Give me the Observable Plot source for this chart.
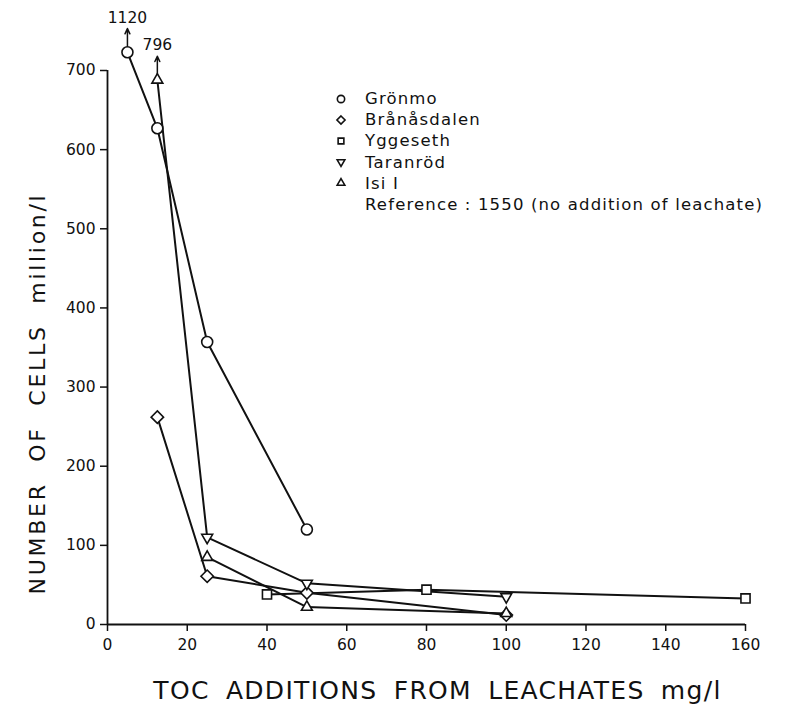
<!DOCTYPE html>
<html>
<head>
<meta charset="utf-8">
<script src="https://cdn.jsdelivr.net/npm/d3@7"></script>
<script src="https://cdn.jsdelivr.net/npm/@observablehq/plot@0.6"></script>
<style>
  html, body { margin: 0; padding: 0; background: #fff; overflow: hidden; }
  #wrap { position: relative; width: 800px; height: 705px; font-family: "DejaVu Sans", sans-serif; }
  #legend { position: absolute; left: 333px; top: 88px; font-size: 16.5px; letter-spacing: 1.15px; color: #111; }
  #legend .row { height: 21.2px; line-height: 21.2px; display: flex; align-items: center; white-space: nowrap; }
  #legend .sym { width: 32px; display: inline-block; }
  #legend svg { display: block; }
</style>
</head>
<body>
<div id="wrap"><div id="legend"></div></div>
<script>
// ---- data ----
const toc = [5, 12.5, 25, 40, 50, 80, 100, 160];
const seriesNames = ["Grönmo", "Brånåsdalen", "Yggeseth", "Taranröd", "Isi I"];
const gronmo      = [723, 627, 357, null, 120, null, null, null];
const branasdalen = [null, 262, 61, null, 40, null, 12, null];
const yggeseth    = [null, null, null, 38, null, 44, null, 33];
const taranrod    = [null, 688, 110, null, 52, null, 35, null];
const isi         = [null, 688, 85, null, 22, null, 14, null];
const offScaleLabels = [
  {series: "Grönmo", x: 5, y: 723, label: "1120"},
  {series: "Isi I", x: 12.5, y: 688, label: "796"}
];
const referenceNote = "Reference : 1550 (no addition of leachate)";
const xTicks = [0, 20, 40, 60, 80, 100, 120, 140, 160];
const yTicks = [0, 100, 200, 300, 400, 500, 600, 700];
const xTitle = "TOC ADDITIONS FROM LEACHATES mg/l";
const yTitle = "NUMBER OF CELLS million/l";

// ---- build table ----
const valuesBySeries = {"Grönmo": gronmo, "Brånåsdalen": branasdalen, "Yggeseth": yggeseth, "Taranröd": taranrod, "Isi I": isi};
const rows = [];
for (const s of seriesNames) {
  valuesBySeries[s].forEach((v, i) => { if (v != null) rows.push({series: s, x: toc[i], y: v}); });
}
// the off-scale point at 12.5 is drawn with the Isi I marker; its line continues to Taranröd
const lineRows = rows.filter(d => !(d.series === "Isi I" && d.x === 12.5));
const dotRows = rows.filter(d => !(d.series === "Taranröd" && d.x === 12.5));

const symbolOf = {"Grönmo": "circle", "Brånåsdalen": "diamond2", "Yggeseth": "square2", "Taranröd": "triangle2", "Isi I": "triangle2"};
const rOf = {"Grönmo": 5.5, "Brånåsdalen": 5.6, "Yggeseth": 5.8, "Taranröd": 5.2, "Isi I": 5.2};

const ink = "#111";
const dotOpts = (s) => ({
  x: "x", y: "y", symbol: () => symbolOf[s], r: rOf[s], fill: "white", stroke: ink, strokeWidth: 1.6,
  rotate: s === "Taranröd" ? 180 : 0
});

const plot = Plot.plot({
  width: 800, height: 705,
  marginLeft: 107, marginRight: 55, marginTop: 70, marginBottom: 81,
  style: {fontFamily: "DejaVu Sans, sans-serif", fontSize: "15px", color: ink, background: "white"},
  x: {domain: [0, 160]},
  y: {domain: [0, 700]},
  symbol: {type: "identity"},
  marks: [
    Plot.ruleX([0], {y1: 0, y2: 700, stroke: ink, strokeWidth: 1.8}),
    Plot.ruleY([0], {x1: 0, x2: 160, stroke: ink, strokeWidth: 1.8}),
    Plot.axisY({ticks: yTicks, tickSize: 7, tickPadding: 5, label: null, strokeWidth: 1.5, fontSize: 15.5, tickFormat: d => String(d)}),
    Plot.axisX({ticks: xTicks, tickSize: 7, tickPadding: 7, label: null, strokeWidth: 1.5, fontSize: 15.5, tickFormat: d => String(d)}),
    Plot.line(lineRows, {x: "x", y: "y", z: "series", stroke: ink, strokeWidth: 2}),
    ...seriesNames.map(s => Plot.dot(dotRows.filter(d => d.series === s), dotOpts(s))),
    Plot.arrow(offScaleLabels, {x: "x", y1: d => d.y + 8, y2: d => d.y + 30, stroke: ink, strokeWidth: 1.5, headLength: 7, headAngle: 50}),
    Plot.text(offScaleLabels, {x: "x", y: d => d.y + 30, text: "label", lineAnchor: "bottom", dy: -6, fontSize: 15.5, fill: ink}),
    Plot.text([xTitle], {frameAnchor: "bottom", dy: 66, dx: 11, fontSize: 25, fill: ink, lineAnchor: "middle", textAnchor: "middle"}),
    Plot.text([yTitle], {frameAnchor: "left", rotate: -90, dx: -70, dy: 46, fontSize: 22, fill: ink, lineAnchor: "middle", textAnchor: "middle"})
  ]
});

// widen spacing of the hand-lettered titles
d3.select(plot).selectAll("text").filter(function() { return this.textContent === xTitle; })
  .attr("word-spacing", "7px").attr("letter-spacing", "1.3px");
d3.select(plot).selectAll("text").filter(function() { return this.textContent === yTitle; })
  .attr("word-spacing", "11px").attr("letter-spacing", "2.7px");

document.getElementById("wrap").prepend(plot);

// ---- legend ----
const legend = d3.select("#legend");
for (const s of seriesNames) {
  const row = legend.append("div").attr("class", "row");
  const sv = row.append("span").attr("class", "sym").append("svg").attr("width", 16).attr("height", 16);
  const sym = d3.symbol().type({circle: d3.symbolCircle, diamond2: d3.symbolDiamond2, square2: d3.symbolSquare2, triangle2: d3.symbolTriangle2}[symbolOf[s]]).size(42);
  sv.append("path").attr("d", sym()).attr("transform", `translate(8,8) rotate(${s === "Taranröd" ? 180 : 0})`)
    .attr("fill", "white").attr("stroke", ink).attr("stroke-width", 1.6);
  row.append("span").text(s);
}
const ref = legend.append("div").attr("class", "row");
ref.append("span").attr("class", "sym");
ref.append("span").text(referenceNote);
</script>
</body>
</html>
